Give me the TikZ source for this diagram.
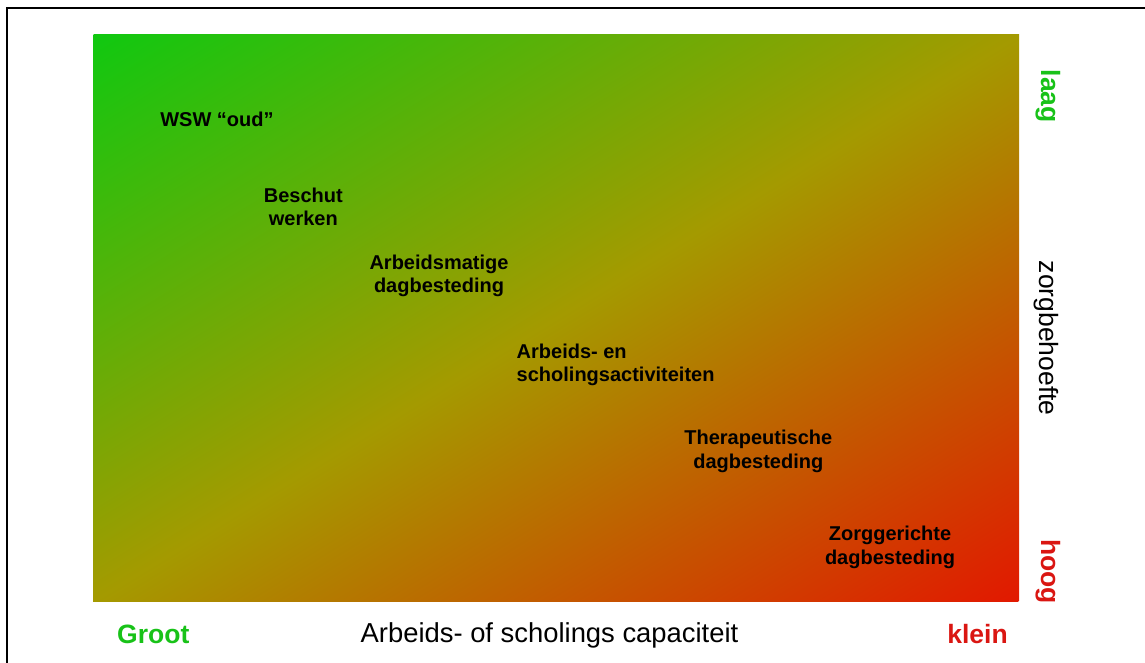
\documentclass[tikz,border=0pt]{standalone}
\usepackage{fontspec}
\setmainfont{Liberation Sans}
\definecolor{groen}{RGB}{16,200,16}
\definecolor{olijf}{RGB}{164,154,0}
\definecolor{rood}{RGB}{226,24,0}
\definecolor{tekstgroen}{RGB}{24,194,24}
\definecolor{tekstrood}{RGB}{218,22,18}
\begin{document}
\begin{tikzpicture}[x=1pt, y=-1pt,
  lbl/.style={font=\bfseries\fontsize{20}{23.5}\selectfont, align=center, inner sep=0pt},
  aslbl/.style={font=\fontsize{26.5}{30}\selectfont, inner sep=0pt}]
\useasboundingbox (0,0) rectangle (1145,663);
\draw[line width=1.3pt] (7,663) |- (1145,8);
\begin{scope}
\clip (93,35) rectangle (1019,601);
\shade[transform canvas={shift={(556,318)}, rotate=31.43}, top color=groen, bottom color=rood, middle color=olijf] (-600,-483) rectangle (600,483);
\end{scope}
\node[lbl] (wsw) at (217,119.5) {WSW “oud”};
\node[lbl] (beschut) at (303.3,206.7) {Beschut\\werken};
\node[lbl] (arbeidsmatig) at (439,275.8) {Arbeidsmatige\\dagbesteding};
\node[lbl, align=left, anchor=west] (scholing) at (516.5,365) {Arbeids- en\\scholingsactiviteiten};
\node[lbl] (therapie) at (758.3,451.3) {Therapeutische\\dagbesteding};
\node[lbl] (zorg) at (890,547.5) {Zorggerichte\\dagbesteding};
\node[aslbl, anchor=base, text=tekstgroen] (groot) at (153.3,643.3) {\bfseries Groot};
\node[aslbl, anchor=base, font=\fontsize{27.4}{30}\selectfont] (capaciteit) at (549.5,642.7) {Arbeids- of scholings capaciteit};
\node[aslbl, anchor=base, text=tekstrood] (klein) at (977.5,643.3) {\bfseries klein};
\node[aslbl, rotate=-90, text=tekstgroen] (laag) at (1048,96.2) {\bfseries laag};
\node[aslbl, rotate=-90] (behoefte) at (1046,338.3) {zorgbehoefte};
\node[aslbl, rotate=-90, text=tekstrood] (hoog) at (1048,571.7) {\bfseries hoog};
\end{tikzpicture}
\end{document}
